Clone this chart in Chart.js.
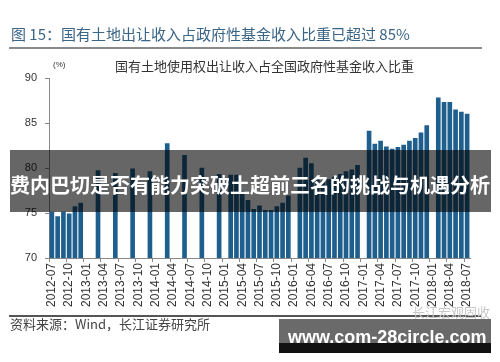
<!DOCTYPE html>
<html>
<head>
<meta charset="utf-8">
<script src="https://cdn.jsdelivr.net/npm/chart.js@4.4.1/dist/chart.umd.min.js"></script>
<style>
  body { margin: 0; background: #fff; }
  #wrap { position: relative; width: 500px; height: 362px; overflow: hidden; font-family: "Noto Sans CJK SC", "Noto Sans", sans-serif; }
  #c { position: absolute; left: 0; top: 0; }
  .abs { position: absolute; white-space: nowrap; }
</style>
</head>
<body>
<div id="wrap">
  <canvas id="c" width="500" height="362"></canvas>
  <div class="abs" style="left:11px;top:25px;font-size:15px;line-height:17px;color:#3b6587;">图 15：国有土地出让收入占政府性基金收入比重已超过 85%</div>
  <div class="abs" style="left:9px;top:47px;width:473px;height:2px;background:#8a8a8a;"></div>
  <div class="abs" style="left:115px;top:59px;font-size:13px;line-height:14px;color:#333;">国有土地使用权出让收入占全国政府性基金收入比重</div>
  <div class="abs" style="left:53px;top:60px;font-size:8px;line-height:9px;color:#333;font-family:'Liberation Sans',sans-serif;">(%)</div>
  <div class="abs" style="left:9px;top:315px;width:472px;height:2px;background:#555;"></div>
  <div class="abs" style="left:10px;top:317px;font-size:13px;line-height:14px;color:#444;">资料来源：Wind，长江证券研究所</div>
  <div class="abs" style="left:412px;top:305px;font-size:13px;line-height:14px;color:#c8c8c8;">长江宏观固收</div>
  <div class="abs" style="left:10px;top:150px;width:481px;height:62px;background:rgba(0,0,0,0.6);"></div>
  <div class="abs" style="left:10px;top:175px;font-size:20px;line-height:20px;font-weight:bold;color:#fff;">费内巴切是否有能力突破土超前三名的挑战与机遇分析</div>
  <div class="abs" style="left:279px;top:319px;width:212px;height:24px;background:#6a6a6a;"></div>
  <div class="abs" style="left:279px;top:343px;width:212px;height:10px;background:#111;"></div>
  <div class="abs" style="left:288px;top:328px;font-size:18px;line-height:18px;font-weight:bold;color:#fff;font-family:'Liberation Sans',sans-serif;">www.com-28circle.com</div>
</div>
<script>
// 月份（x 轴类别）
var months = [
  "2012-07","2012-08","2012-09","2012-10","2012-11","2012-12",
  "2013-01","2013-02","2013-03","2013-04","2013-05","2013-06","2013-07","2013-08","2013-09","2013-10","2013-11","2013-12",
  "2014-01","2014-02","2014-03","2014-04","2014-05","2014-06","2014-07","2014-08","2014-09","2014-10","2014-11","2014-12",
  "2015-01","2015-02","2015-03","2015-04","2015-05","2015-06","2015-07","2015-08","2015-09","2015-10","2015-11","2015-12",
  "2016-01","2016-02","2016-03","2016-04","2016-05","2016-06","2016-07","2016-08","2016-09","2016-10","2016-11","2016-12",
  "2017-01","2017-02","2017-03","2017-04","2017-05","2017-06","2017-07","2017-08","2017-09","2017-10","2017-11","2017-12",
  "2018-01","2018-02","2018-03","2018-04","2018-05","2018-06","2018-07"
];

// 国有土地使用权出让收入占比 (%)，缺月为 null
var share = [
  75.1, 74.6, 75.1, 74.9, 75.7, 76.1,
  null, null, 79.7, null, null, 79.4, null, null, 79.9, null, null, 79.6,
  null, null, 82.7, null, null, 81.4, null, null, 80.0, null, null, 79.3,
  null, 79.2, 79.2, 77.4, 76.4, 75.4, 75.8, 75.3, 75.3, 75.7, 76.1, 76.9,
  null, 80.0, 81.1, 80.5, 78.8, 78.5, 78.7, 79.0, 79.3, 79.6, 79.8, 80.3,
  null, 84.1, 82.65, 83.0, 82.35, 82.1, 82.3, 82.55, 83.0, 83.3, 83.9, 84.7,
  null, 87.8, 87.3, 87.3, 86.45, 86.2, 86.0
];

var yTicks = [70, 75, 80, 85, 90];

new Chart(document.getElementById("c"), {
  type: 'bar',
  data: {
    labels: months,
    datasets: [{
      data: share,
      backgroundColor: '#1f5f8e',
      barThickness: 4
    }]
  },
  options: {
    responsive: false,
    animation: false,
    devicePixelRatio: 1,
    layout: { padding: { left: 0, top: 78, right: 30, bottom: 0 } },
    plugins: { legend: { display: false }, tooltip: { enabled: false } },
    scales: {
      x: {
        offset: true,
        grid: {
          offset: true,
          drawOnChartArea: false,
          tickLength: 4,
          tickColor: function(ctx) { return ctx.index % 3 === 0 ? '#888' : 'rgba(0,0,0,0)'; }
        },
        border: { color: '#888' },
        ticks: {
          autoSkip: false,
          minRotation: 90,
          maxRotation: 90,
          padding: 1,
          color: '#333',
          font: { family: 'Liberation Sans', size: 12 },
          callback: function(v, i) { return i % 3 === 0 ? months[i] : ''; }
        },
        afterFit: function(s) { s.height = 104; }
      },
      y: {
        min: yTicks[0],
        max: yTicks[yTicks.length - 1],
        grid: { drawOnChartArea: false, tickLength: 4, tickColor: '#888' },
        border: { color: '#888' },
        ticks: {
          stepSize: 5,
          padding: 8,
          color: '#333',
          font: { family: 'Liberation Sans', size: 11 }
        },
        afterFit: function(s) { s.width = 49; }
      }
    }
  }
});
</script>
</body>
</html>
